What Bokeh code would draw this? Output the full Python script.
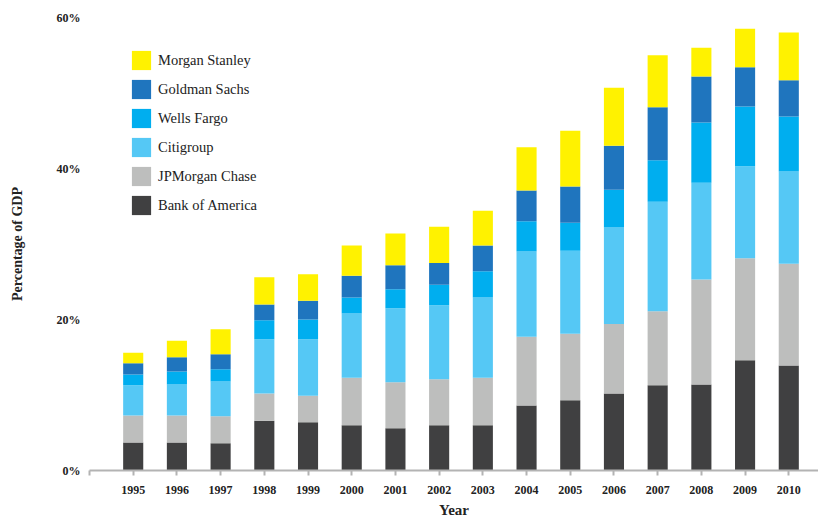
from bokeh.plotting import figure
from bokeh.models import (ColumnDataSource, Legend, LegendItem, FixedTicker,
                          PrintfTickFormatter, Range1d)
from bokeh.embed import file_html
from bokeh.resources import INLINE

years = [1995, 1996, 1997, 1998, 1999, 2000, 2001, 2002, 2003,
         2004, 2005, 2006, 2007, 2008, 2009, 2010]

bank_of_america = [3.7, 3.7, 3.6, 6.6, 6.4, 6.0, 5.6, 6.0, 6.0, 8.6, 9.3, 10.2, 11.3, 11.4, 14.6, 13.9]
jpmorgan_chase  = [3.6, 3.6, 3.6, 3.6, 3.5, 6.3, 6.1, 6.1, 6.3, 9.1, 8.8, 9.2, 9.8, 13.9, 13.5, 13.5]
citigroup       = [4.0, 4.1, 4.6, 7.2, 7.5, 8.5, 9.8, 9.8, 10.6, 11.3, 11.0, 12.8, 14.5, 12.8, 12.2, 12.2]
wells_fargo     = [1.4, 1.7, 1.6, 2.5, 2.6, 2.1, 2.5, 2.7, 3.5, 4.0, 3.7, 5.0, 5.5, 8.0, 7.9, 7.3]
goldman_sachs   = [1.5, 1.9, 2.0, 2.1, 2.5, 2.9, 3.2, 2.9, 3.4, 4.1, 4.8, 5.8, 7.0, 6.1, 5.2, 4.8]
morgan_stanley  = [1.4, 2.2, 3.3, 3.6, 3.5, 4.0, 4.2, 4.8, 4.6, 5.7, 7.4, 7.7, 6.9, 3.8, 5.1, 6.3]

series_names = ["Bank of America", "JPMorgan Chase", "Citigroup",
                "Wells Fargo", "Goldman Sachs", "Morgan Stanley"]
series_keys = ["boa", "jpm", "citi", "wells", "gs", "ms"]
colors = ["#404041", "#bdbebd", "#55c8f5", "#00aeef", "#1f75be", "#fff200"]
y_ticks = [0, 20, 40, 60]

source = ColumnDataSource(dict(
    year=years, boa=bank_of_america, jpm=jpmorgan_chase, citi=citigroup,
    wells=wells_fargo, gs=goldman_sachs, ms=morgan_stanley))

SERIF = "Liberation Serif"

p = figure(width=818, height=522, output_backend="svg", toolbar_location=None,
           x_range=Range1d(1994.0, 2010.68), y_range=Range1d(0, 60),
           min_border_left=89, min_border_right=0, min_border_top=17,
           min_border_bottom=52)

renderers = p.vbar_stack(series_keys, x="year", width=0.46, source=source,
                         color=colors, line_color=None)

p.xgrid.visible = False
p.ygrid.visible = False
p.outline_line_color = None
p.background_fill_color = "white"

# x axis
p.xaxis.ticker = FixedTicker(ticks=[1994] + years)
p.xaxis.major_label_overrides = {1994: ""}
p.xaxis.axis_line_color = "#b3b3b3"
p.xaxis.axis_line_width = 2
p.xaxis.major_tick_line_color = "#b3b3b3"
p.xaxis.major_tick_line_width = 2
p.xaxis.major_tick_out = 5
p.xaxis.major_tick_in = 0
p.xaxis.minor_tick_line_color = None
p.xaxis.major_label_standoff = 10
p.xaxis.major_label_text_font = SERIF
p.xaxis.major_label_text_font_style = "bold"
p.xaxis.major_label_text_font_size = "12px"
p.xaxis.major_label_text_color = "#222222"
p.xaxis.axis_label = "Year"
p.xaxis.axis_label_text_font = SERIF
p.xaxis.axis_label_text_font_style = "bold"
p.xaxis.axis_label_text_font_size = "15px"
p.xaxis.axis_label_text_color = "#222222"
p.xaxis.axis_label_standoff = 5

# y axis
p.yaxis.ticker = FixedTicker(ticks=y_ticks)
p.yaxis.formatter = PrintfTickFormatter(format="%d%%")
p.yaxis.axis_line_color = None
p.yaxis.major_tick_line_color = None
p.yaxis.minor_tick_line_color = None
p.yaxis.major_label_standoff = 3
p.yaxis.major_label_text_font = SERIF
p.yaxis.major_label_text_font_style = "bold"
p.yaxis.major_label_text_font_size = "12px"
p.yaxis.major_label_text_color = "#222222"
p.yaxis.axis_label = "Percentage of GDP"
p.yaxis.axis_label_text_font = SERIF
p.yaxis.axis_label_text_font_style = "bold"
p.yaxis.axis_label_text_font_size = "14px"
p.yaxis.axis_label_text_color = "#222222"
p.yaxis.axis_label_standoff = 29

items = [LegendItem(label=name, renderers=[r])
         for name, r in zip(series_names, renderers)][::-1]
legend = Legend(items=items, location=(40, 253), orientation="vertical",
                glyph_width=24, glyph_height=24, spacing=5, label_standoff=5,
                padding=0, margin=0, border_line_color=None,
                background_fill_alpha=0,
                label_text_font=SERIF, label_text_font_size="14.5px",
                label_text_color="#222222")
p.add_layout(legend, "center")

open("out.html", "w").write(file_html(p, INLINE))
